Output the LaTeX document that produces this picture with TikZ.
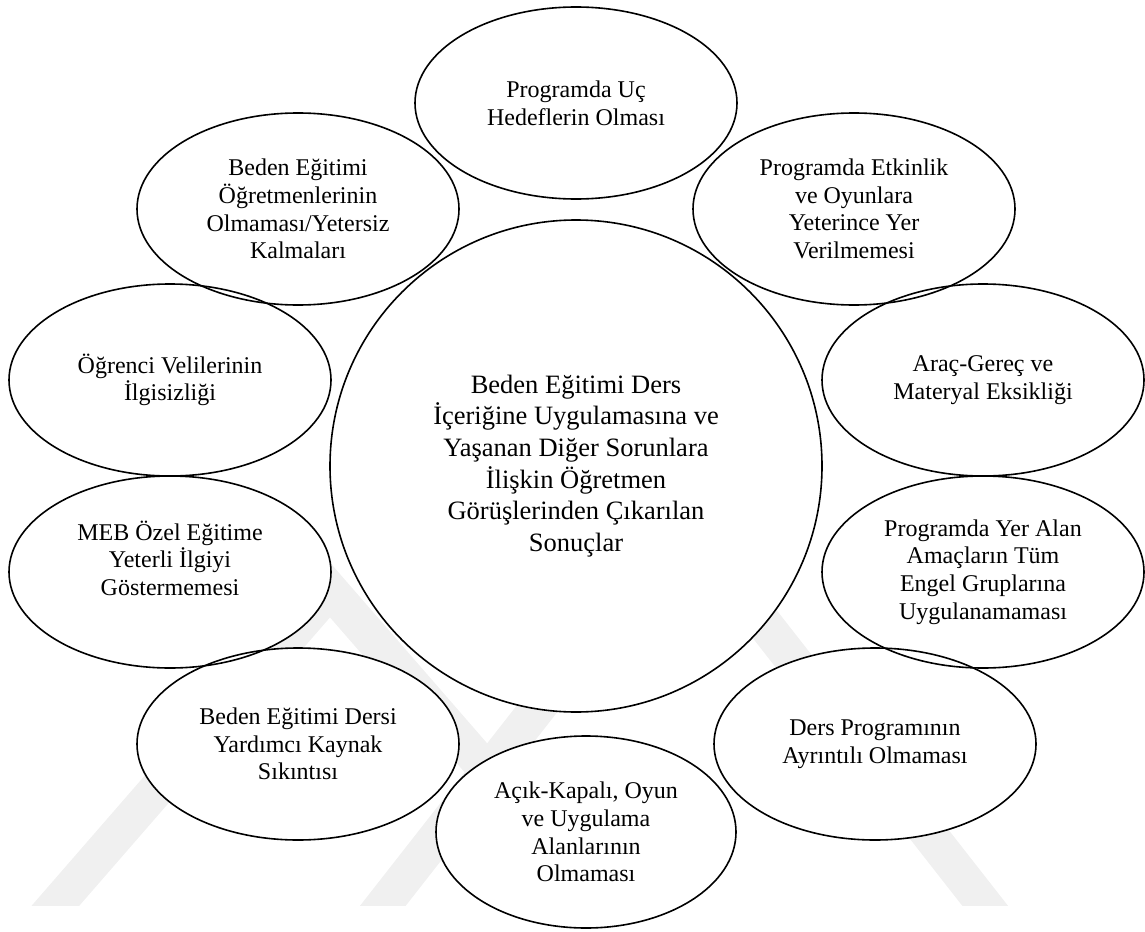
\documentclass[tikz,border=0pt]{standalone}
\usepackage{fontspec}
\setmainfont{Liberation Serif}
\usetikzlibrary{shapes.geometric}
\tikzset{
  bub/.style={draw=black, line width=1.6pt, ellipse, inner sep=0pt, align=center,
    minimum width=322pt, minimum height=192pt,
    font=\fontsize{24}{27.7}\selectfont},
  hub/.style={draw=black, line width=1.6pt, circle, inner sep=0pt, align=center,
    minimum size=492pt, font=\fontsize{26.5}{31.7}\selectfont},
  wm/.style={line width=36pt, draw=black!6}
}
\begin{document}
\begin{tikzpicture}[x=1pt,y=-1pt]
\useasboundingbox (0,0) rectangle (1145,931);
% watermark
\begin{scope}
\clip (0,0) rectangle (1145,905);
\draw[wm] (30,935) -- (330,590) -- (630,935);
\draw[wm] (360,935) -- (684,521) -- (1008,935);
\end{scope}
% white fills
\foreach \cx/\cy/\rx in {576/103/161, 298/209/161, 854/209/161, 170/380/161, 983/380/161,
  170/572/161, 983/572/161, 298/744/161, 875/744/161, 586/832/150}
  \fill[white] (\cx,\cy) ellipse [x radius=\rx, y radius=96];
\fill[white] (576,466) circle [radius=246];
% nodes
\node[hub] (c) at (576,466) {Beden Eğitimi Ders\\İçeriğine Uygulamasına ve\\Yaşanan Diğer Sorunlara\\İlişkin Öğretmen\\Görüşlerinden Çıkarılan\\Sonuçlar};
\node[bub] (t) at (576,103) {Programda Uç\\Hedeflerin Olması};
\node[bub] (ul) at (298,209) {Beden Eğitimi\\Öğretmenlerinin\\Olmaması/Yetersiz\\Kalmaları};
\node[bub] (ur) at (854,209) {Programda Etkinlik\\ve Oyunlara\\Yeterince Yer\\Verilmemesi};
\node[bub] (l) at (170,380) {Öğrenci Velilerinin\\İlgisizliği};
\node[bub] (r) at (983,380) {Araç-Gereç ve\\Materyal Eksikliği};
\node[bub] (ml) at (170,572) {MEB Özel Eğitime\\Yeterli İlgiyi\\Göstermemesi\\\mbox{}};
\node[bub] (mr) at (983,572) {Programda Yer Alan\\Amaçların Tüm\\Engel Gruplarına\\Uygulanamaması};
\node[bub] (bl) at (298,744) {Beden Eğitimi Dersi\\Yardımcı Kaynak\\Sıkıntısı};
\node[bub] (br) at (875,744) {Ders Programının\\Ayrıntılı Olmaması};
\node[bub, minimum width=300pt] (b) at (586,832) {Açık-Kapalı, Oyun\\ve Uygulama\\Alanlarının\\Olmaması};
\end{tikzpicture}
\end{document}
